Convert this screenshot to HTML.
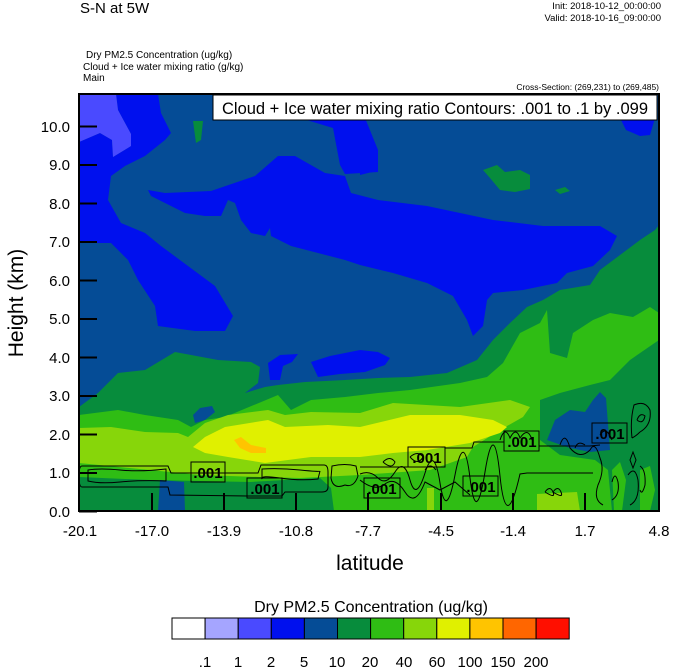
<!DOCTYPE html>
<html><head><meta charset="utf-8"><style>
body{margin:0;background:#fff;}
svg{display:block;font-family:"Liberation Sans",Arial,sans-serif;}
</style></head><body>
<svg width="674" height="668" viewBox="0 0 674 668" xmlns="http://www.w3.org/2000/svg">
<defs><clipPath id="c"><rect x="79" y="94" width="580" height="417"/></clipPath></defs>
<text x="80" y="13" font-size="15">S-N at 5W</text>
<text x="661" y="9" font-size="9.5" text-anchor="end">Init: 2018-10-12_00:00:00</text>
<text x="661" y="21" font-size="9.5" text-anchor="end">Valid: 2018-10-16_09:00:00</text>
<text x="86" y="58" font-size="10">Dry PM2.5 Concentration   (ug/kg)</text>
<text x="83" y="70" font-size="10">Cloud + Ice water mixing ratio   (g/kg)</text>
<text x="83" y="81" font-size="10">Main</text>
<text x="659" y="90" font-size="8.5" text-anchor="end">Cross-Section: (269,231) to (269,485)</text>

<g clip-path="url(#c)">
<rect x="79" y="94" width="580" height="417" fill="#054c96"/>
<polygon fill="#0010ee" points="79,142 100,133 112,140 113,157 131,146 131,134 118,110 116,94 158,94 161,113 171,133 165,140 145,156 125,166 111,176 108,200 121,223 145,233 161,246 188,266 215,286 233,316 225,331 195,331 158,326 155,306 138,280 128,260 111,243 79,243"/>
<polygon fill="#4a4aff" points="79,94 116,94 118,110 131,134 131,146 113,157 112,140 100,133 79,142"/>
<polygon fill="#0010ee" points="148,190 165,193 211,191 255,176 278,156 295,156 325,173 345,176 351,193 378,200 427,206 493,220 543,226 600,226 617,236 610,250 593,266 567,273 557,283 523,290 493,293 487,300 483,326 473,336 467,320 453,296 427,283 393,273 360,265 345,260 291,246 271,236 270,228 265,236 251,233 241,220 235,203 228,200 221,216 205,216 185,213 165,203 151,196"/>
<polygon fill="#0010ee" points="300,118 365,118 378,150 378,172 345,174 340,165 333,128"/>
<polygon fill="#0010ee" points="360,130 372,145 377,160 372,172 360,175"/>
<polygon fill="#0010ee" points="620,118 655,118 650,135 640,136 626,130"/>
<polygon fill="#0010ee" points="268,363 280,355 298,354 292,362 283,366 280,380 270,380"/>
<polygon fill="#0010ee" points="311,362 330,356 360,350 378,352 390,358 385,365 365,372 340,374 318,377"/>
<polygon fill="#078c3c" points="193,121 203,121 201,140 196,143"/>
<polygon fill="#078c3c" points="483,170 497,165 505,172 520,170 530,175 530,189 515,192 500,190 490,178"/>
<polygon fill="#078c3c" points="555,190 565,187 570,191 560,194"/>
<!-- dark green -->
<polygon fill="#078c3c" points="79,407 98,393 118,373 145,370 175,352 218,360 251,362 260,367 258,383 245,393 265,387 278,385 305,382 345,380 378,378 410,377 447,373 477,360 493,340 510,323 527,307 543,300 560,290 590,285 600,270 620,255 640,240 655,230 659,225 659,511 79,511"/>
<polygon fill="#054c96" points="193,415 200,408 212,406 215,412 205,420 195,423"/>
<!-- light green -->
<polygon fill="#2fbd14" points="79,415 118,410 145,415 178,420 191,427 205,420 225,417 278,395 291,410 311,400 345,397 378,393 410,390 460,383 487,377 503,363 520,333 540,323 547,310 550,353 567,358 573,333 593,320 610,313 633,317 650,307 659,313 659,511 79,511"/>
<polygon fill="#078c3c" points="540,400 560,393 590,385 610,380 630,360 659,340 659,511 612,511 608,470 595,460 560,455 540,440"/>
<polygon fill="#054c96" points="547,440 555,420 570,410 585,412 593,400 600,392 606,398 610,450 590,452 570,448"/>
<polygon fill="#2fbd14" points="612,470 620,462 626,480 622,511 614,511"/>
<polygon fill="#2fbd14" points="640,470 650,466 655,490 650,511 640,511"/>
<!-- lime -->
<polygon fill="#87d60a" points="79,428 111,427 145,432 178,433 188,437 205,423 228,415 268,410 285,415 311,412 360,413 393,403 460,407 510,400 530,407 523,417 500,430 473,447 467,457 430,470 360,475 300,478 260,477 200,475 150,470 79,463"/>
<polygon fill="#87d60a" points="427,488 434,488 434,511 427,511"/>
<polygon fill="#87d60a" points="537,494 577,492 580,511 537,511"/>
<polygon fill="#078c3c" points="79,477 150,480 250,482 320,478 331,488 334,511 79,511"/>
<polygon fill="#054c96" points="160,480 184,482 185,511 158,511"/>
<!-- yellow -->
<polygon fill="#e0f000" points="193,447 205,437 225,427 268,420 285,427 328,425 360,427 410,415 460,415 493,420 507,427 500,433 470,443 427,450 393,453 360,457 311,457 265,463 228,457 205,453"/>
<polygon fill="#ffc400" points="234,440 241,437 251,445 266,448 266,453 251,453 240,448"/>
<!-- contours -->
<g fill="none" stroke="#000" stroke-width="1">
<path d="M82,466 H168 L171,473 H258 L261,465 H324 Q328,465 328,472 V487 Q328,492 322,492 H285 L282,496 H248 L170,495 L168,487 H82 Q79,487 79,476 Q79,466 82,466"/>
<path d="M88,470 Q100,468 120,470 T166,469 L166,481 Q140,480 120,482 T88,481 Z"/>
<path d="M262,469 Q280,468 300,470 T320,471 L318,479 Q300,481 280,478 T262,479 Z"/>
<path d="M332,466 Q345,463 356,466 L358,476 Q354,488 345,485 Q333,490 331,478 Z"/>
<path d="M360,467 H408 M445,448 H472 L474,442 H504 M539,446 H590 L600,445"/>
<path d="M360,474 Q370,470 378,478 T395,472 T410,480 T425,473 T440,483 T455,475 T470,478 T485,472 T500,476 T520,474 L527,473 H593"/>
<path d="M360,480 Q375,492 385,484 T405,492 T425,482 L440,490 L455,482 L470,495"/>
<path d="M383,462 Q390,455 395,462 Q392,470 383,462 M410,457 Q418,450 423,457 Q418,466 410,457 M425,470 Q430,462 436,470"/>
<path d="M500,440 Q505,425 510,438 Q516,426 520,438 Q528,426 532,440"/>
<path d="M545,492 Q550,485 553,492 Q556,499 545,492 M553,492 Q558,485 561,492 Q564,499 553,492"/>
<path d="M560,445 Q565,430 570,448 Q580,460 590,450 Q595,440 600,458 Q605,470 598,485 Q593,500 603,505"/>
<path d="M632,438 Q630,420 634,405 Q645,400 650,410 Q652,425 640,432 Q636,436 632,438 M637,420 Q640,412 645,416 Q643,425 637,420"/>
<path d="M633,452 L636,460 L633,468 L630,460 Z"/>
<path d="M612,482 Q615,470 618,482 Q620,495 612,500 M628,475 Q635,465 638,480 Q640,500 630,505 M640,466 Q646,470 645,485 Q642,496 640,490"/>
<path d="M575,448 Q578,440 585,445 M600,435 Q606,425 612,440"/>
</g>
<g font-size="15" font-weight="bold" fill="#000" stroke="#000" stroke-width="0.3">
<rect x="191" y="462" width="34" height="20" fill="none" stroke="#000" stroke-width="1"/><text x="208" y="478" text-anchor="middle" stroke="none">.001</text>
<rect x="247" y="478" width="35" height="20" fill="none" stroke="#000" stroke-width="1"/><text x="265" y="494" text-anchor="middle" stroke="none">.001</text>
<rect x="364" y="478" width="36" height="20" fill="none" stroke="#000" stroke-width="1"/><text x="382" y="494" text-anchor="middle" stroke="none">.001</text>
<rect x="408" y="447" width="37" height="20" fill="none" stroke="#000" stroke-width="1"/><text x="427" y="463" text-anchor="middle" stroke="none">.001</text>
<rect x="463" y="476" width="35" height="20" fill="none" stroke="#000" stroke-width="1"/><text x="481" y="492" text-anchor="middle" stroke="none">.001</text>
<rect x="504" y="431" width="35" height="20" fill="none" stroke="#000" stroke-width="1"/><text x="522" y="447" text-anchor="middle" stroke="none">.001</text>
<rect x="592" y="423" width="35" height="20" fill="none" stroke="#000" stroke-width="1"/><text x="610" y="439" text-anchor="middle" stroke="none">.001</text>
</g>
</g>
<rect x="79" y="94" width="580" height="417" fill="none" stroke="#000" stroke-width="2"/>
<rect x="213" y="95" width="444" height="25" fill="#fff" stroke="#000" stroke-width="1"/>
<text x="435" y="114" font-size="16.5" text-anchor="middle">Cloud + Ice water mixing ratio Contours: .001 to .1 by .099</text>
<!-- ticks -->
<g stroke="#000" stroke-width="2">
<path d="M79,511.5h18M79,473h18M79,434.5h18M79,396h18M79,357.5h18M79,319h18M79,280.5h18M79,242h18M79,203.5h18M79,165h18M79,126.5h18"/>
<path d="M152,511v-18M224,511v-18M296,511v-18M368,511v-18M441,511v-18M513,511v-18M585,511v-18"/>
</g>
<g font-size="15" text-anchor="end">
<text x="70" y="517">0.0</text><text x="70" y="478">1.0</text><text x="70" y="440">2.0</text><text x="70" y="401">3.0</text><text x="70" y="363">4.0</text><text x="70" y="324">5.0</text><text x="70" y="286">6.0</text><text x="70" y="247">7.0</text><text x="70" y="209">8.0</text><text x="70" y="170">9.0</text><text x="70" y="132">10.0</text>
</g>
<g font-size="15" text-anchor="middle">
<text x="80" y="536">-20.1</text><text x="152" y="536">-17.0</text><text x="224" y="536">-13.9</text><text x="296" y="536">-10.8</text><text x="368" y="536">-7.7</text><text x="441" y="536">-4.5</text><text x="513" y="536">-1.4</text><text x="585" y="536">1.7</text><text x="659" y="536">4.8</text>
</g>
<text x="370" y="570" font-size="21" text-anchor="middle">latitude</text>
<text transform="translate(23,303) rotate(-90)" font-size="21" text-anchor="middle">Height (km)</text>
<text x="371" y="612" font-size="16" text-anchor="middle">Dry PM2.5 Concentration  (ug/kg)</text>
<g stroke="#000" stroke-width="1">
<rect x="172" y="618" width="33.1" height="21" fill="#ffffff"/>
<rect x="205.1" y="618" width="33.1" height="21" fill="#a5a5ff"/>
<rect x="238.2" y="618" width="33.1" height="21" fill="#4a4aff"/>
<rect x="271.3" y="618" width="33.1" height="21" fill="#0010ee"/>
<rect x="304.4" y="618" width="33.1" height="21" fill="#054c96"/>
<rect x="337.5" y="618" width="33.1" height="21" fill="#078c3c"/>
<rect x="370.6" y="618" width="33.1" height="21" fill="#2fbd14"/>
<rect x="403.7" y="618" width="33.1" height="21" fill="#87d60a"/>
<rect x="436.8" y="618" width="33.1" height="21" fill="#e0f000"/>
<rect x="469.9" y="618" width="33.1" height="21" fill="#ffc400"/>
<rect x="503" y="618" width="33.1" height="21" fill="#ff6600"/>
<rect x="536.1" y="618" width="33.1" height="21" fill="#ff0f00"/>
</g>
<g font-size="15" text-anchor="middle">
<text x="205" y="667">.1</text><text x="238" y="667">1</text><text x="271" y="667">2</text><text x="304" y="667">5</text><text x="337" y="667">10</text><text x="370" y="667">20</text><text x="404" y="667">40</text><text x="437" y="667">60</text><text x="470" y="667">100</text><text x="503" y="667">150</text><text x="536" y="667">200</text>
</g>
</svg>
</body></html>
